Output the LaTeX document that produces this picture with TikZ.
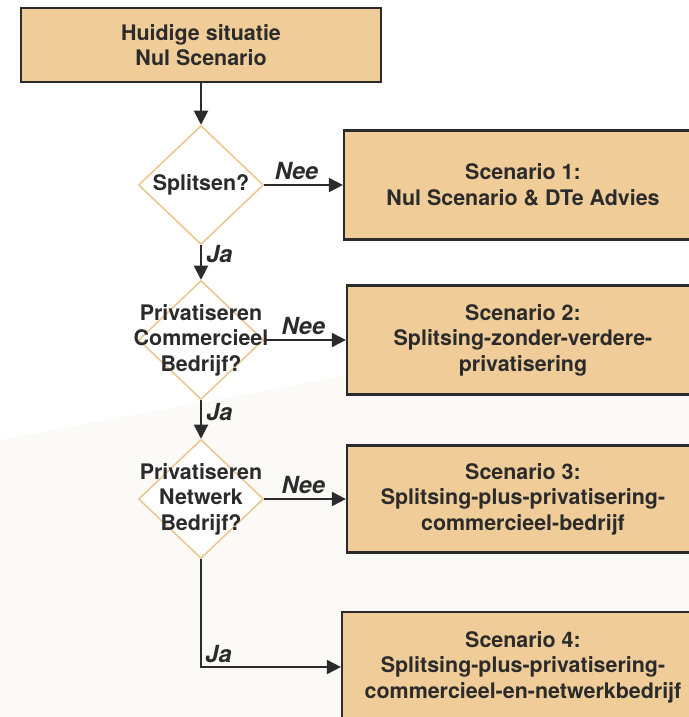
\documentclass[tikz,border=0pt]{standalone}
\usepackage{fontspec}
\setmainfont{TeX Gyre Heros}
\usetikzlibrary{shapes.geometric, arrows.meta, positioning}

\definecolor{boxtan}{HTML}{EFCC98}
\definecolor{edgetan}{HTML}{EBC58E}
\definecolor{linegray}{HTML}{2B2B2B}
\definecolor{tint}{HTML}{FCFAF6}

\tikzset{
    scenario/.style={draw=linegray, line width=1.3pt, fill=boxtan, align=center, inner sep=0pt, text=linegray, font=\bfseries\fontsize{12.2}{14.6}\selectfont},
    decision/.style={diamond, draw=edgetan, line width=0.85pt, fill=white, inner sep=0pt, minimum width=2.5cm, minimum height=2.38cm},
    question/.style={align=center, inner sep=0pt, text=linegray, font=\bfseries\fontsize{12.2}{14.6}\selectfont},
    flow/.style={draw=linegray, line width=1.1pt, -{Triangle[length=8pt, width=8pt]}},
    answer/.style={inner sep=2.5pt, text=linegray, font=\bfseries\itshape\fontsize{13.4}{15}\selectfont}
}

\begin{document}
\begin{tikzpicture}[x=0.02cm, y=-0.02cm]
    \useasboundingbox (0, 0) rectangle (689, 717);
    \clip (0, 0) rectangle (689, 717);
    \fill [white] (0, 0) rectangle (689, 717);
    \fill [tint] (0, 440) -- (689, 312) -- (689, 717) -- (0, 717) -- cycle;

    \node [scenario, minimum width=7.2cm, minimum height=1.48cm] (now) at (201, 45) {Huidige situatie\\Nul Scenario};

    \node [decision] (split) at (201, 185) {};
    \node [question] (splitText) at (split) {Splitsen?};
    \node [scenario, minimum width=7.16cm, minimum height=2.18cm] (one) at (523, 185) {Scenario 1:\\Nul Scenario \& DTe Advies};

    \node [decision] (commercieel) at (201, 340) {};
    \node [question] (commercieelText) at (commercieel) {Privatiseren\\Commercieel\\Bedrijf?};
    \node [scenario, minimum width=7.04cm, minimum height=2.18cm] (two) at (523, 340) {Scenario 2:\\Splitsing-zonder-verdere-\\privatisering};

    \node [decision] (netwerk) at (201, 499) {};
    \node [question] (netwerkText) at (netwerk) {Privatiseren\\Netwerk\\Bedrijf?};
    \node [scenario, minimum width=7.04cm, minimum height=2.14cm] (three) at (523, 499) {Scenario 3:\\Splitsing-plus-privatisering-\\commercieel-bedrijf};

    \node [scenario, minimum width=7.24cm, minimum height=2.2cm] (four) at (523, 667) {Scenario 4:\\Splitsing-plus-privatisering-\\commercieel-en-netwerkbedrijf};

    \draw [flow] (now) -- (split);
    \draw [flow] (split) -- node [answer, above, pos=0.41] {Nee} (one);
    \draw [flow] (split) -- node [answer, right, pos=0.26] {Ja} (commercieel);
    \draw [flow] (commercieel) -- node [answer, above, pos=0.48] {Nee} (two);
    \draw [flow] (commercieel) -- node [answer, right, pos=0.3] {Ja} (netwerk);
    \draw [flow] (netwerk) -- node [answer, above, pos=0.48] {Nee} (three);
    \draw [flow] (netwerk) |- node [answer, above right, pos=0.5, inner sep=2pt] {Ja} (four);
\end{tikzpicture}
\end{document}
